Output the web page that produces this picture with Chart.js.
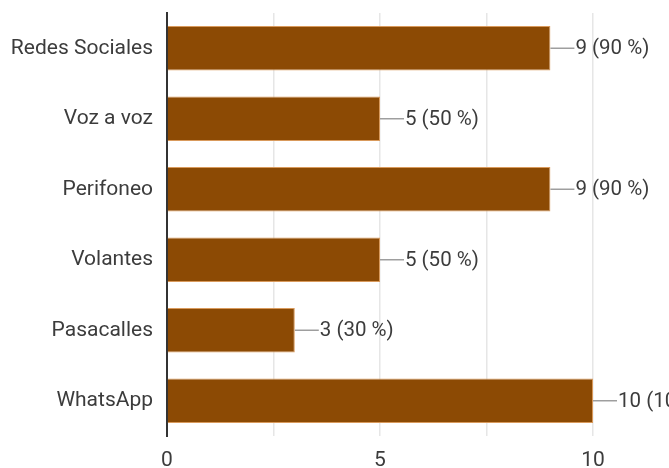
<!DOCTYPE html>
<html><head><meta charset="utf-8">
<script src="https://cdn.jsdelivr.net/npm/chart.js@4/dist/chart.umd.min.js"></script>
<style>html,body{margin:0;padding:0;background:#fff}#wrap{width:669px;height:468px}</style>
</head><body><div id="wrap"><canvas id="c" width="669" height="468"></canvas></div>
<script>
const categories = ["Redes Sociales", "Voz a voz", "Perifoneo", "Volantes", "Pasacalles", "WhatsApp"];
const counts = [9, 5, 9, 5, 3, 10];
const percents = [90, 50, 90, 50, 30, 100];
const xTickLabels = [0, 5, 10];

const valueLabels = {
  id: 'valueLabels',
  afterDatasetsDraw(chart) {
    const ctx = chart.ctx;
    const meta = chart.getDatasetMeta(0);
    ctx.save();
    ctx.font = '20.5px Roboto';
    ctx.textBaseline = 'middle';
    ctx.textAlign = 'left';
    meta.data.forEach((bar, i) => {
      const x = bar.x, y = bar.y;
      ctx.strokeStyle = '#9e9e9e';
      ctx.lineWidth = 1.5;
      ctx.beginPath();
      ctx.moveTo(x, y);
      ctx.lineTo(x + 24, y);
      ctx.stroke();
      ctx.fillStyle = '#3c3c3c';
      ctx.fillText(counts[i] + ' (' + percents[i] + ' %)', x + 25, y + 1);
    });
    ctx.restore();
  }
};

new Chart(document.getElementById('c'), {
  type: 'bar',
  data: {
    labels: categories,
    datasets: [{
      data: counts,
      backgroundColor: '#8c4a04',
      borderColor: '#d99a5c',
      borderWidth: 1,
      borderSkipped: 'left',
      categoryPercentage: 0.63,
      barPercentage: 1
    }]
  },
  options: {
    indexAxis: 'y',
    responsive: false,
    animation: false,
    devicePixelRatio: 1,
    layout: { padding: { top: 13, right: 76, left: 0, bottom: 0 } },
    plugins: { legend: { display: false }, tooltip: { enabled: false } },
    scales: {
      x: {
        min: 0, max: 10,
        ticks: {
          stepSize: 2.5,
          autoSkip: false,
          maxRotation: 0,
          color: '#3c3c3c',
          font: { family: 'Roboto', size: 21 },
          padding: 12,
          callback: v => xTickLabels.includes(v) ? String(v) : ''
        },
        grid: { color: '#e6e6e6', lineWidth: 1.5, drawTicks: false },
        border: { display: false },
        afterFit(s) { s.height = 32; s.paddingLeft = 0; s.paddingRight = 0; }
      },
      y: {
        ticks: {
          color: '#3c3c3c',
          font: { family: 'Roboto', size: 21 },
          padding: 14
        },
        grid: { display: false, drawTicks: false },
        border: { display: true, color: '#333333', width: 2 },
        afterFit(s) { s.width = 167; s.paddingTop = 0; s.paddingBottom = 0; }
      }
    }
  },
  plugins: [valueLabels]
});
</script>
</body></html>
